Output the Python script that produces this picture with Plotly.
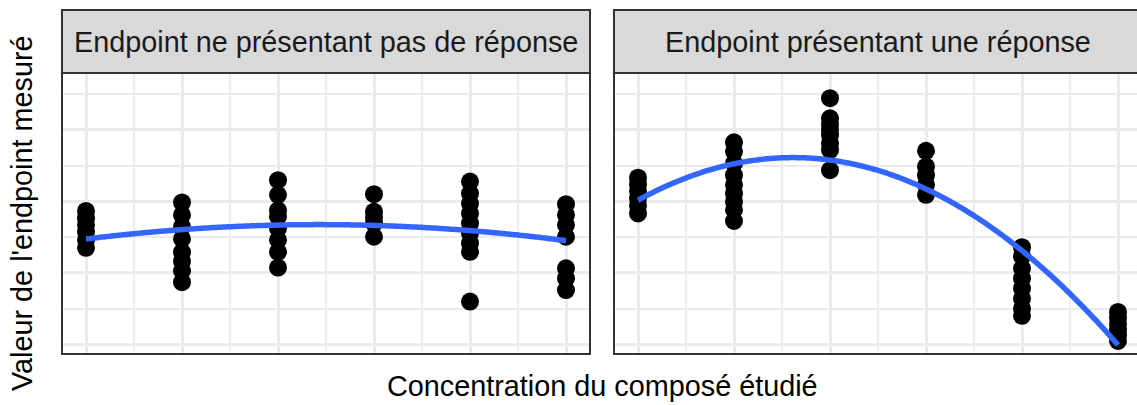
import numpy as np
import plotly.graph_objects as go

W, H = 1137, 405

# ---- data ----
conc_levels = [0, 1, 2, 3, 4, 5]
panel_titles = ["Endpoint ne présentant pas de réponse", "Endpoint présentant une réponse"]

no_resp_c0 = [3.73, 3.53, 3.34, 3.14, 2.92, 2.70]
no_resp_c1 = [3.97, 3.62, 3.29, 2.95, 2.58, 2.32, 2.05, 1.74]
no_resp_c2 = [4.59, 4.18, 3.75, 3.57, 3.25, 2.92, 2.59, 2.15]
no_resp_c3 = [4.20, 3.71, 3.55, 3.39, 3.01]
no_resp_c4 = [4.55, 4.22, 3.94, 3.66, 3.39, 3.11, 2.83, 2.59, 1.20]
no_resp_c5 = [3.92, 3.62, 3.34, 3.01, 2.13, 1.85, 1.52]

resp_c0 = [4.66, 4.47, 4.29, 4.08, 3.88, 3.66]
resp_c1 = [5.65, 5.39, 5.06, 4.73, 4.46, 4.22, 3.99, 3.76, 3.45]
resp_c2 = [6.88, 6.32, 6.15, 6.00, 5.85, 5.62, 5.43, 4.87]
resp_c3 = [5.41, 4.97, 4.73, 4.46, 4.18]
resp_c4 = [2.72, 2.46, 2.13, 1.85, 1.57, 1.28, 1.00, 0.80]
resp_c5 = [0.91, 0.75, 0.58, 0.42, 0.26, 0.10]

no_resp = [no_resp_c0, no_resp_c1, no_resp_c2, no_resp_c3, no_resp_c4, no_resp_c5]
resp = [resp_c0, resp_c1, resp_c2, resp_c3, resp_c4, resp_c5]

x_title = "Concentration du composé étudié"
y_title = "Valeur de l'endpoint mesuré"


def flatten(groups):
    xs, ys = [], []
    for c, vals in zip(conc_levels, groups):
        xs += [c] * len(vals)
        ys += vals
    return np.array(xs, float), np.array(ys, float)


def px_x(p):
    return p / W


def px_y(p):
    return 1 - p / H


fig = go.Figure()
axes = [("x", "y"), ("x2", "y2")]
for groups, (xa, ya) in zip([no_resp, resp], axes):
    xs, ys = flatten(groups)
    fig.add_trace(go.Scatter(x=xs, y=ys, mode="markers", xaxis=xa, yaxis=ya,
                             marker=dict(color="black", size=18, line=dict(width=0)),
                             showlegend=False, hoverinfo="skip", cliponaxis=False))
    coef = np.polyfit(xs, ys, 2)  # smooth: y ~ poly(x, 2)
    xf = np.linspace(0, 5, 300)
    fig.add_trace(go.Scatter(x=xf, y=np.polyval(coef, xf), mode="lines", xaxis=xa, yaxis=ya,
                             line=dict(color="#3366FF", width=5.5, simplify=False),
                             showlegend=False, hoverinfo="skip"))

grid = "#EBEBEB"
common_x = dict(showticklabels=False, ticks="", zeroline=False, showline=False,
                tickvals=conc_levels, showgrid=True, gridcolor=grid, gridwidth=3,
                minor=dict(tickvals=[0.5, 1.5, 2.5, 3.5, 4.5], showgrid=True, gridcolor=grid, gridwidth=1.6))
common_y = dict(showticklabels=False, ticks="", zeroline=False, showline=False,
                range=[-0.265, 7.584], tickvals=[0, 2, 4, 6], showgrid=True, gridcolor=grid, gridwidth=3,
                minor=dict(tickvals=[1, 3, 5, 7], showgrid=True, gridcolor=grid, gridwidth=1.6),
                domain=[px_y(354), px_y(73)])

L0, L1 = 62, 590
R0, R1 = 614, 1142
fig.update_layout(
    width=W, height=H, margin=dict(l=0, r=0, t=0, b=0),
    paper_bgcolor="white", plot_bgcolor="white",
    xaxis=dict(domain=[px_x(L0), px_x(L1)], range=[-0.25, 5.25], **common_x),
    xaxis2=dict(domain=[px_x(R0), 1.0], range=[-0.25, -0.25 + (W - R0) / 96.0], anchor="y2", **common_x),
    yaxis=dict(anchor="x", **common_y),
    yaxis2=dict(anchor="x2", **common_y),
)

shapes = []
for x0, x1 in [(L0, L1), (R0, R1)]:
    shapes.append(dict(type="rect", xref="paper", yref="paper", x0=px_x(x0), x1=px_x(x1),
                       y0=px_y(73), y1=px_y(10), fillcolor="#D9D9D9",
                       line=dict(color="#333333", width=2), layer="above"))
    shapes.append(dict(type="rect", xref="paper", yref="paper", x0=px_x(x0), x1=px_x(x1),
                       y0=px_y(354), y1=px_y(73), fillcolor="rgba(0,0,0,0)",
                       line=dict(color="#333333", width=2), layer="above"))
fig.update_layout(shapes=shapes)

font = "Liberation Sans, Arial, sans-serif"
fs = 28.8
ann = []
for title, (x0, x1) in zip(panel_titles, [(L0, L1), (R0, R1)]):
    ann.append(dict(text=title, xref="paper", yref="paper", x=px_x((x0 + x1) / 2), y=px_y(42),
                    xanchor="center", yanchor="middle", showarrow=False,
                    font=dict(family=font, size=fs, color="#1A1A1A")))
ann.append(dict(text=x_title, xref="paper", yref="paper", x=px_x((L0 + R1) / 2), y=px_y(386),
                xanchor="center", yanchor="middle", showarrow=False,
                font=dict(family=font, size=fs, color="black")))
ann.append(dict(text=y_title, xref="paper", yref="paper", x=px_x(22), y=px_y(213),
                xanchor="center", yanchor="middle", showarrow=False, textangle=-90,
                font=dict(family=font, size=fs, color="black")))
fig.update_layout(annotations=ann)

fig.write_html("out.html", config={"displayModeBar": False},
               post_script="document.body.style.margin='0';document.body.style.overflow='hidden';")
